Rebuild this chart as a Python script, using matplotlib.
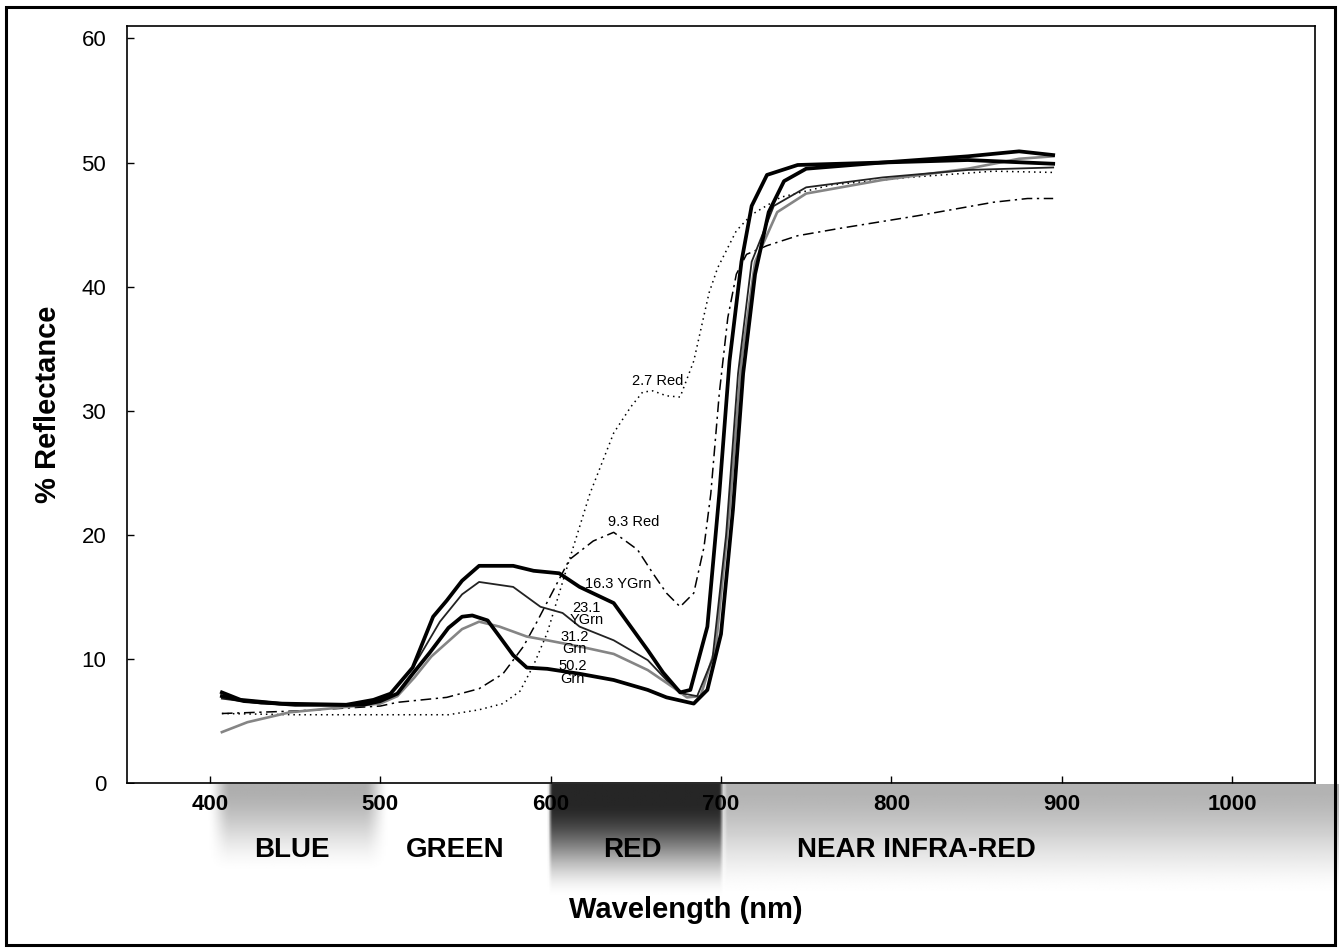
import numpy as np
import matplotlib
matplotlib.use("Agg")
import matplotlib.pyplot as plt
from matplotlib.patches import Rectangle

plt.rcParams['font.family'] = ['Liberation Sans', 'DejaVu Sans']

# ---------------- data (x in axis units) ----------------
wl_27 = [407, 450, 500, 540, 558, 572, 582, 590, 598, 611, 623, 637, 647, 654, 660, 668, 676, 684, 693, 698, 709, 718, 735, 765, 810, 860, 895]
r_27  = [5.6, 5.5, 5.5, 5.5, 5.9, 6.4, 7.4, 9.5, 12.1, 18.0, 23.3, 28.2, 30.3, 31.5, 31.6, 31.2, 31.1, 34.0, 39.5, 41.5, 44.5, 45.8, 47.2, 48.2, 48.8, 49.3, 49.2]

wl_93 = [407, 450, 500, 510, 539, 558, 572, 584, 592, 611, 625, 637, 651, 660, 668, 676, 684, 690, 694, 699, 704, 709, 715, 727, 745, 770, 815, 860, 880, 895]
r_93  = [5.6, 5.8, 6.2, 6.5, 6.9, 7.6, 8.8, 11.0, 13.0, 18.0, 19.5, 20.2, 18.8, 16.9, 15.3, 14.2, 15.3, 19.0, 23.3, 31.4, 37.5, 41.0, 42.6, 43.3, 44.1, 44.7, 45.7, 46.8, 47.1, 47.1]

wl_163 = [407, 418, 441, 480, 496, 506, 519, 531, 539, 548, 558, 578, 590, 605, 617, 637, 647, 657, 666, 676, 682, 692, 699, 705, 712, 718, 727, 745, 795, 845, 895]
r_163  = [7.3, 6.7, 6.4, 6.3, 6.7, 7.2, 9.3, 13.4, 14.7, 16.3, 17.5, 17.5, 17.1, 16.9, 15.8, 14.5, 12.6, 10.7, 8.9, 7.3, 7.5, 12.6, 23.3, 34.0, 42.0, 46.5, 49.0, 49.8, 50.0, 50.2, 49.9]

wl_231 = [407, 430, 490, 505, 520, 535, 548, 558, 578, 594, 607, 617, 637, 657, 668, 678, 686, 695, 703, 710, 718, 731, 750, 795, 845, 895]
r_231  = [6.8, 6.4, 6.3, 7.0, 9.5, 13.0, 15.2, 16.2, 15.8, 14.2, 13.7, 12.6, 11.5, 9.9, 8.3, 7.2, 7.0, 10.0, 20.0, 33.0, 42.0, 46.5, 48.0, 48.8, 49.4, 49.6]

wl_312 = [407, 422, 447, 470, 500, 510, 520, 530, 539, 548, 558, 570, 586, 598, 617, 637, 657, 672, 680, 688, 697, 705, 712, 720, 733, 750, 795, 845, 875, 895]
r_312  = [4.1, 4.9, 5.7, 6.0, 6.4, 7.0, 8.5, 10.2, 11.3, 12.4, 13.0, 12.6, 11.8, 11.5, 11.0, 10.4, 9.1, 7.7, 6.9, 7.0, 11.0, 22.0, 34.0, 42.0, 46.0, 47.5, 48.6, 49.5, 50.3, 50.5]

wl_502 = [407, 420, 450, 490, 500, 510, 519, 529, 540, 548, 554, 563, 570, 578, 586, 598, 617, 637, 657, 668, 684, 692, 700, 707, 713, 720, 728, 737, 750, 795, 845, 875, 895]
r_502  = [7.0, 6.6, 6.3, 6.3, 6.6, 7.2, 8.8, 10.5, 12.5, 13.4, 13.5, 13.1, 11.8, 10.3, 9.3, 9.2, 8.8, 8.3, 7.5, 6.9, 6.4, 7.5, 12.0, 22.0, 33.0, 41.0, 46.0, 48.5, 49.5, 50.0, 50.5, 50.9, 50.6]

labels_text = ["2.7 Red", "9.3 Red", "16.3 YGrn", "23.1\nYGrn", "31.2\nGrn", "50.2\nGrn"]
bands = ["BLUE", "GREEN", "RED", "NEAR INFRA-RED"]
xticks = [400, 500, 600, 700, 800, 900, 1000]
yticks = [0, 10, 20, 30, 40, 50, 60]

# ---------------- figure ----------------
W, H = 1339, 949
fig = plt.figure(figsize=(W / 100, H / 100), dpi=100)

def fx(px):
    return px / W

def fy(py):
    return 1 - py / H

ax_l, ax_r, ax_t, ax_b = 127, 1315, 26, 783
ax = fig.add_axes([fx(ax_l), fy(ax_b), fx(ax_r - ax_l), (ax_b - ax_t) / H])
XMIN, XMAX = 351.3, 1048.7
ax.set_xlim(XMIN, XMAX)
ax.set_ylim(0, 61)

ax.plot(wl_27, r_27, color='black', lw=1.1, ls=(0, (1, 2.6)))
ax.plot(wl_93, r_93, color='black', lw=1.1, ls=(0, (7, 3, 1.5, 3)))
ax.plot(wl_312, r_312, color='#858585', lw=1.9)
ax.plot(wl_231, r_231, color='#222222', lw=1.3)
ax.plot(wl_502, r_502, color='black', lw=2.7)
ax.plot(wl_163, r_163, color='black', lw=2.7)

lab_pos = [(663, 32.4), (649, 21.0), (639.6, 16.0), (621, 13.6), (614, 11.3), (613, 8.9)]
for t, (x, y) in zip(labels_text, lab_pos):
    ax.text(x, y, t, fontsize=10.5, ha='center', va='center', linespacing=0.85)

ax.set_xticks(xticks)
ax.set_xticklabels([])
ax.set_yticks(yticks)
ax.set_yticklabels([str(v) for v in yticks], fontsize=16)
ax.tick_params(axis='both', direction='in', length=5, width=1, colors='black')
ax.tick_params(axis='y', pad=15)
for s in ax.spines.values():
    s.set_linewidth(1.2)
ax.set_ylabel('% Reflectance', fontsize=21, fontweight='bold', labelpad=14)

# ---------------- spectral band below the axis ----------------
band_top, band_bot = 784, 905
bx = fig.add_axes([fx(ax_l), fy(band_bot), fx(W - ax_l), (band_bot - band_top) / H])
px_per_nm = (ax_r - ax_l) / (XMAX - XMIN)
bxmax = XMIN + (W - ax_l) / px_per_nm
nm = np.linspace(XMIN, bxmax, 700)
yy = np.linspace(0, 1, 120)  # 0 = top, 1 = bottom
N, Y = np.meshgrid(nm, yy)

def smoothstep(a, b, x):
    t = np.clip((x - a) / (b - a), 0, 1)
    return t * t * (3 - 2 * t)

img = np.ones_like(N)
blue = (smoothstep(398, 412, N) * (1 - smoothstep(490, 505, N)))
img -= blue * 0.32 * (1 - smoothstep(0.0, 0.75, Y))
red = smoothstep(598, 601, N) * (1 - smoothstep(699, 702, N))
img -= red * 0.85 * (1 - smoothstep(0.15, 0.95, Y))
nir = smoothstep(700, 704, N)
img -= nir * 0.30 * (1 - smoothstep(0.0, 0.95, Y))
img = np.clip(img, 0, 1)
bx.imshow(img, cmap='gray', vmin=0, vmax=1, aspect='auto',
          extent=[XMIN, bxmax, 1, 0], interpolation='bilinear')
bx.set_xlim(XMIN, bxmax)
bx.set_ylim(1, 0)
bx.axis('off')

ytl = (805 - band_top) / (band_bot - band_top)
for v in xticks:
    bx.text(v, ytl, str(v), fontsize=16, fontweight='bold', ha='center', va='center')

band_pos = [448, 544, 648, 814.5]
ybl = (850 - band_top) / (band_bot - band_top)
for t, x in zip(bands, band_pos):
    bx.text(x, ybl, t, fontsize=20, fontweight='bold', ha='center', va='center')

fig.text(fx(686), fy(910), 'Wavelength (nm)', fontsize=21, fontweight='bold',
         ha='center', va='center')

fig.add_artist(Rectangle((fx(6), fy(945)), fx(1329), (945 - 7) / H, transform=fig.transFigure,
                         fill=False, edgecolor='black', lw=2.2))

fig.savefig('out.png', dpi=100)
